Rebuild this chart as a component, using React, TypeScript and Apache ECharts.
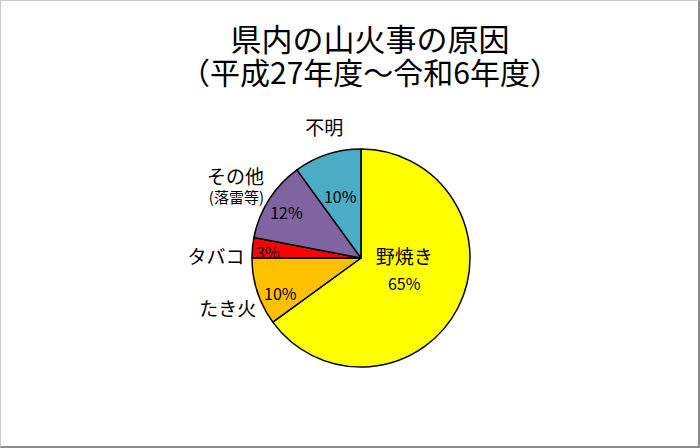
import { useEffect, useRef } from 'react';
import * as echarts from 'echarts';

// 山火事の原因（平成27年度～令和6年度）の割合（%）
const causes = ['野焼き', 'たき火', 'タバコ', 'その他', '不明'];
const shares = [65, 10, 3, 12, 10];
const notes = ['', '', '', '(落雷等)', ''];
const colors = ['#FFFF00', '#FFC000', '#FF0000', '#8064A2', '#4BACC6'];

// small nudges of the labels away from ECharts' default spots, [dx, dy]
const innerShift = [[-8, -15], [-26, 17], [-36, -1], [-26, -15], [-3, -7]];
const outerShift = [[0, 0], [-1, 16], [-8, 8], [-5, -15], [16, -28]];

const FONT = '"Noto Sans CJK JP", "Noto Sans", sans-serif';

export default function App() {
  const ref = useRef<HTMLDivElement | null>(null);

  useEffect(() => {
    if (!ref.current) return;
    const chart = echarts.init(ref.current, undefined, { renderer: 'svg' });
    const data = causes.map((name, i) => ({
      name,
      value: shares[i],
      itemStyle: { color: colors[i] },
    }));

    chart.setOption({
      animation: false,
      backgroundColor: '#ffffff',
      textStyle: { fontFamily: FONT },
      title: {
        text: '県内の山火事の原因',
        subtext: '（平成27年度～令和6年度）',
        left: 369,
        top: 21,
        itemGap: 3,
        padding: 0,
        textAlign: 'center',
        textStyle: {
          fontFamily: FONT,
          fontSize: 31,
          fontWeight: 'normal',
          lineHeight: 30,
          color: '#000',
        },
        subtextStyle: {
          fontFamily: FONT,
          fontSize: 30,
          lineHeight: 30,
          color: '#000',
        },
      },
      series: [
        {
          type: 'pie',
          center: [360, 257],
          radius: 109,
          startAngle: 90,
          clockwise: true,
          avoidLabelOverlap: false,
          silent: true,
          itemStyle: { borderColor: '#000', borderWidth: 1.5 },
          label: {
            position: 'inside',
            fontFamily: FONT,
            fontSize: 16,
            color: '#000',
            formatter: (p: any) =>
              p.dataIndex === 0
                ? `{n|${p.name}}\n{p|${p.value}%}`
                : `${p.value}%`,
            rich: {
              n: { fontFamily: FONT, fontSize: 19, lineHeight: 28, color: '#000' },
              p: { fontFamily: FONT, fontSize: 16, lineHeight: 28, color: '#000' },
            },
          },
          labelLine: { show: false },
          labelLayout: (p: any) => ({
            dx: innerShift[p.dataIndex][0],
            dy: innerShift[p.dataIndex][1],
          }),
          data,
        },
        {
          type: 'pie',
          center: [360, 257],
          radius: 109,
          startAngle: 90,
          clockwise: true,
          avoidLabelOverlap: false,
          silent: true,
          itemStyle: { color: 'transparent', borderWidth: 0 },
          label: {
            position: 'outside',
            distanceToLabelLine: 0,
            fontFamily: FONT,
            fontSize: 19,
            color: '#000',
            formatter: (p: any) => {
              if (p.dataIndex === 0) return '';
              const note = notes[p.dataIndex];
              return note ? `{m|${p.name}}\n{s|${note}}` : `{m|${p.name}}`;
            },
            rich: {
              m: { fontFamily: FONT, fontSize: 19, lineHeight: 23, color: '#000' },
              s: { fontFamily: FONT, fontSize: 15, lineHeight: 19, color: '#000' },
            },
          },
          labelLine: { show: false, length: 0, length2: 0 },
          labelLayout: (p: any) => ({
            dx: outerShift[p.dataIndex][0],
            dy: outerShift[p.dataIndex][1],
          }),
          data: causes.map((name, i) => ({ name, value: shares[i] })),
        },
      ],
    });

    return () => chart.dispose();
  }, []);

  return (
    <div
      style={{
        position: 'fixed',
        left: 0,
        top: 0,
        width: 700,
        height: 448,
        boxSizing: 'border-box',
        borderTop: '1px solid #c8c8c8',
        borderLeft: '1px solid #c8c8c8',
        borderRight: '2px solid #8c8c8c',
        borderBottom: '2px solid #8c8c8c',
        background: '#fff',
      }}
    >
      <div ref={ref} style={{ width: 697, height: 445 }} />
    </div>
  );
}
